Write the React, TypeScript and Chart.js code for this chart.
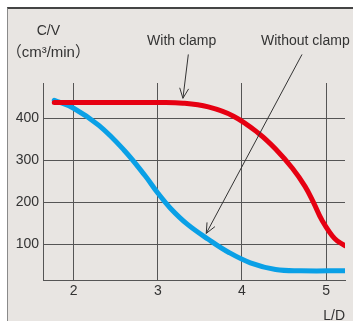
import React, { useEffect, useRef } from "react";
import { Chart, registerables } from "chart.js";

Chart.register(...registerables);

// L/D values and C/V values (cm³/min)
const withClampX = [1.77, 2.5, 3.0, 3.3, 3.6, 3.9, 4.2, 4.4, 4.6, 4.75, 4.85, 4.95, 5.1, 5.22];
const withClampY = [437.5, 437.5, 437.5, 436, 427, 405, 364, 327, 281, 238, 200, 158, 114, 97];

const withoutClampX = [1.77, 2.0, 2.3, 2.6, 2.85, 3.0, 3.15, 3.35, 3.6, 3.85, 4.1, 4.4, 4.7, 5.22];
const withoutClampY = [443, 424, 383, 324, 263, 222, 186, 148, 112, 80, 56, 40, 37, 37];

const xTicks = [2, 3, 4, 5];
const yTicks = [100, 200, 300, 400];

const xMin = 1.636;
const xMax = 5.225;
const yMin = 15;
const yMax = 484;

// annotation texts (placed in data coordinates)
const labelTexts = ["With clamp", "Without clamp", "C/V", "（cm³/min）", "L/D"];
const labelX = [3.284, 4.754, 1.699, 1.699, 5.097];
const labelY = [584, 584, 608, 555, -72];

// arrows: tail -> tip (data coordinates)
const arrowTailX = [3.363, 4.714];
const arrowTailY = [552, 552];
const arrowTipX = [3.299, 3.576];
const arrowTipY = [447.6, 126];

const FONT = '"Liberation Sans", Arial, "Noto Sans CJK JP", sans-serif';
const TEXT = "#333333";

const annotationPlugin = {
  id: "annotations",
  afterDraw(chart: any) {
    const { ctx, scales } = chart;
    const xs = scales.x;
    const ys = scales.y;
    ctx.save();
    // arrows
    ctx.strokeStyle = "#333333";
    ctx.lineWidth = 1;
    for (let i = 0; i < arrowTailX.length; i++) {
      const x1 = xs.getPixelForValue(arrowTailX[i]);
      const y1 = ys.getPixelForValue(arrowTailY[i]);
      const x2 = xs.getPixelForValue(arrowTipX[i]);
      const y2 = ys.getPixelForValue(arrowTipY[i]);
      ctx.beginPath();
      ctx.moveTo(x1, y1);
      ctx.lineTo(x2, y2);
      ctx.stroke();
      const ang = Math.atan2(y1 - y2, x1 - x2);
      const len = 11;
      const spread = 0.42;
      ctx.beginPath();
      ctx.moveTo(x2 + len * Math.cos(ang + spread), y2 + len * Math.sin(ang + spread));
      ctx.lineTo(x2, y2);
      ctx.lineTo(x2 + len * Math.cos(ang - spread), y2 + len * Math.sin(ang - spread));
      ctx.stroke();
    }
    // texts
    ctx.fillStyle = TEXT;
    ctx.textAlign = "center";
    ctx.textBaseline = "middle";
    for (let i = 0; i < labelTexts.length; i++) {
      ctx.font = i === 3 ? `15px ${FONT}` : `14px ${FONT}`;
      ctx.fillText(labelTexts[i], xs.getPixelForValue(labelX[i]), ys.getPixelForValue(labelY[i]));
    }
    ctx.restore();
  },
};

export default function App() {
  const ref = useRef<HTMLCanvasElement | null>(null);

  useEffect(() => {
    if (!ref.current) return;
    const chart = new Chart(ref.current, {
      type: "line",
      data: {
        datasets: [
          {
            label: "With clamp",
            data: withClampX.map((x, i) => ({ x, y: withClampY[i] })),
            borderColor: "#e60012",
            borderWidth: 5,
            pointRadius: 0,
            tension: 0.4,
            borderCapStyle: "round",
            borderJoinStyle: "round",
            fill: false,
          },
          {
            label: "Without clamp",
            data: withoutClampX.map((x, i) => ({ x, y: withoutClampY[i] })),
            borderColor: "#0aa0e6",
            borderWidth: 5,
            pointRadius: 0,
            tension: 0.4,
            borderCapStyle: "round",
            borderJoinStyle: "round",
            fill: false,
          },
        ],
      },
      options: {
        responsive: false,
        animation: false,
        events: [],
        layout: { padding: { top: 83, right: 8, left: 0, bottom: 0 } },
        plugins: { legend: { display: false }, tooltip: { enabled: false } },
        scales: {
          x: {
            type: "linear",
            min: xMin,
            max: xMax,
            afterBuildTicks: (s: any) => {
              s.ticks = xTicks.map((v) => ({ value: v }));
            },
            afterFit: (s: any) => {
              s.height = 41;
            },
            grid: { color: "#555555", lineWidth: 1, drawTicks: false },
            border: { color: "#555555", width: 1 },
            ticks: {
              padding: 3,
              color: TEXT,
              font: { family: FONT, size: 14 },
              callback: (v: any) => String(v),
            },
          },
          y: {
            type: "linear",
            min: yMin,
            max: yMax,
            afterBuildTicks: (s: any) => {
              s.ticks = yTicks.map((v) => ({ value: v }));
            },
            afterFit: (s: any) => {
              s.width = 43;
            },
            grid: { color: "#555555", lineWidth: 1, drawTicks: false },
            border: { color: "#555555", width: 1 },
            ticks: {
              padding: 4,
              color: TEXT,
              font: { family: FONT, size: 14 },
              callback: (v: any) => String(v),
            },
          },
        },
      },
      plugins: [annotationPlugin],
    });
    return () => chart.destroy();
  }, []);

  return (
    <div style={{ position: "absolute", left: 0, top: 0, width: 353, height: 321, background: "#ffffff", overflow: "hidden" }}>
      <div
        style={{
          position: "absolute",
          left: 7,
          top: 7,
          right: 0,
          bottom: 0,
          background: "#e8e5e2",
          borderLeft: "1px solid #8a8a8a",
          borderTop: "2px solid #444444",
        }}
      />
      <canvas ref={ref} width={353} height={321} style={{ position: "absolute", left: 0, top: 0 }} />
    </div>
  );
}
